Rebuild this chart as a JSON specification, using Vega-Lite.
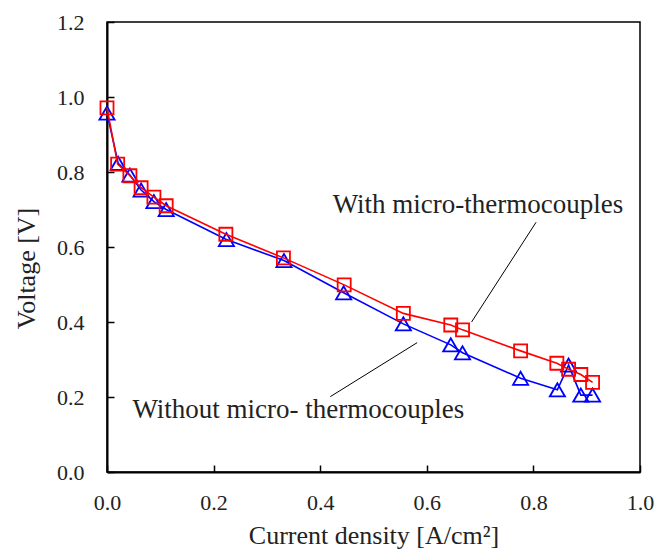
{
  "$schema": "https://vega.github.io/schema/vega-lite/v6.json",
  "autosize": "none",
  "width": 533,
  "height": 450,
  "padding": {"left": 107, "top": 22, "right": 15, "bottom": 77},
  "background": "white",
  "config": {
    "view": {"stroke": "black", "strokeWidth": 1.5},
    "font": "Liberation Serif",
    "axis": {
      "grid": false,
      "labelFlush": false,
      "domainColor": "black",
      "domainWidth": 2,
      "tickColor": "black",
      "tickWidth": 1.5,
      "tickSize": -7,
      "labelFont": "Liberation Serif",
      "labelFontSize": 22,
      "labelColor": "#222",
      "titleFont": "Liberation Serif",
      "titleFontSize": 26,
      "titleFontWeight": "normal",
      "titleColor": "#222"
    }
  },
  "datasets": {
    "iv": [
      {"series": "Without", "x": 0.0, "v": 0.957},
      {"series": "Without", "x": 0.021, "v": 0.823},
      {"series": "Without", "x": 0.043, "v": 0.792},
      {"series": "Without", "x": 0.064, "v": 0.752},
      {"series": "Without", "x": 0.088, "v": 0.721},
      {"series": "Without", "x": 0.111, "v": 0.700},
      {"series": "Without", "x": 0.224, "v": 0.620},
      {"series": "Without", "x": 0.332, "v": 0.564},
      {"series": "Without", "x": 0.444, "v": 0.478},
      {"series": "Without", "x": 0.556, "v": 0.395},
      {"series": "Without", "x": 0.645, "v": 0.339},
      {"series": "Without", "x": 0.667, "v": 0.318},
      {"series": "Without", "x": 0.776, "v": 0.250},
      {"series": "Without", "x": 0.845, "v": 0.219},
      {"series": "Without", "x": 0.866, "v": 0.285},
      {"series": "Without", "x": 0.889, "v": 0.205},
      {"series": "Without", "x": 0.911, "v": 0.205},
      {"series": "With", "x": 0.0, "v": 0.971},
      {"series": "With", "x": 0.020, "v": 0.821},
      {"series": "With", "x": 0.043, "v": 0.790},
      {"series": "With", "x": 0.064, "v": 0.758},
      {"series": "With", "x": 0.088, "v": 0.733},
      {"series": "With", "x": 0.111, "v": 0.710},
      {"series": "With", "x": 0.223, "v": 0.634},
      {"series": "With", "x": 0.331, "v": 0.571},
      {"series": "With", "x": 0.445, "v": 0.499},
      {"series": "With", "x": 0.556, "v": 0.423},
      {"series": "With", "x": 0.645, "v": 0.392},
      {"series": "With", "x": 0.667, "v": 0.379},
      {"series": "With", "x": 0.776, "v": 0.323},
      {"series": "With", "x": 0.844, "v": 0.290},
      {"series": "With", "x": 0.866, "v": 0.274},
      {"series": "With", "x": 0.889, "v": 0.260},
      {"series": "With", "x": 0.911, "v": 0.239}
    ],
    "leaders": [
      {"x": 0.805, "y": 0.666, "x2": 0.684, "y2": 0.400},
      {"x": 0.419, "y": 0.201, "x2": 0.582, "y2": 0.345}
    ],
    "labels": [
      {"x": 0.696, "y": 0.691, "text": "With micro-thermocouples"},
      {"x": 0.359, "y": 0.145, "text": "Without micro- thermocouples"}
    ]
  },
  "layer": [
    {
      "data": {"name": "iv"},
      "transform": [{"filter": "datum.series === 'Without'"}],
      "mark": {"type": "line", "color": "#0000ff", "strokeWidth": 1.6},
      "encoding": {
        "x": {"field": "x", "type": "quantitative",
              "scale": {"domain": [0, 1], "nice": false},
              "axis": {"values": [0, 0.2, 0.4, 0.6, 0.8, 1.0], "format": ".1f", "labelPadding": 27, "title": "Current density [A/cm²]", "titleY": 50, "titleBaseline": "top"}},
        "y": {"field": "v", "type": "quantitative",
              "scale": {"domain": [0, 1.2], "nice": false},
              "axis": {"values": [0, 0.2, 0.4, 0.6, 0.8, 1.0, 1.2], "format": ".1f", "labelPadding": 30, "title": "Voltage [V]", "titlePadding": 17, "titleY": 246}}
      }
    },
    {
      "data": {"name": "iv"},
      "transform": [{"filter": "datum.series === 'Without'"}],
      "mark": {"type": "point", "shape": "triangle-up", "filled": false, "color": "#0000ff", "strokeWidth": 1.8, "size": 230, "opacity": 1},
      "encoding": {
        "x": {"field": "x", "type": "quantitative"},
        "y": {"field": "v", "type": "quantitative"}
      }
    },
    {
      "data": {"name": "iv"},
      "transform": [{"filter": "datum.series === 'With'"}],
      "mark": {"type": "line", "color": "#ff0000", "strokeWidth": 1.6},
      "encoding": {
        "x": {"field": "x", "type": "quantitative"},
        "y": {"field": "v", "type": "quantitative"}
      }
    },
    {
      "data": {"name": "iv"},
      "transform": [{"filter": "datum.series === 'With'"}],
      "mark": {"type": "point", "shape": "square", "filled": false, "color": "#ff0000", "strokeWidth": 1.8, "size": 170, "opacity": 1},
      "encoding": {
        "x": {"field": "x", "type": "quantitative"},
        "y": {"field": "v", "type": "quantitative"}
      }
    },
    {
      "data": {"name": "leaders"},
      "mark": {"type": "rule", "color": "black", "strokeWidth": 1},
      "encoding": {
        "x": {"field": "x", "type": "quantitative"},
        "y": {"field": "y", "type": "quantitative"},
        "x2": {"field": "x2"},
        "y2": {"field": "y2"}
      }
    },
    {
      "data": {"name": "labels"},
      "mark": {"type": "text", "font": "Liberation Serif", "fontSize": 27, "color": "#222", "align": "center", "baseline": "alphabetic"},
      "encoding": {
        "x": {"field": "x", "type": "quantitative"},
        "y": {"field": "y", "type": "quantitative"},
        "text": {"field": "text"}
      }
    }
  ]
}
